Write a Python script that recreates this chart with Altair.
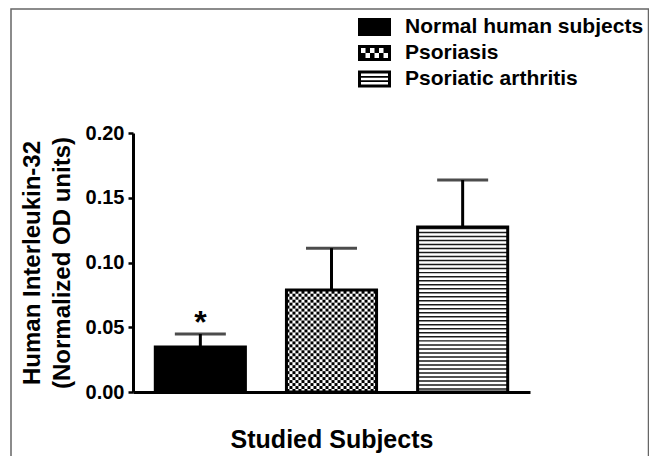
import math
import altair as alt
import pandas as pd

# ---- data ----
categories = ["Normal human subjects", "Psoriasis", "Psoriatic arthritis"]
means = [0.0347, 0.0788, 0.1274]
sems = [0.0101, 0.0323, 0.0363]
marks_sig = ["*", "", ""]
y_ticks = [0.0, 0.05, 0.10, 0.15, 0.20]

df = pd.DataFrame({"cat": categories, "mean": means, "sem": sems, "sig": marks_sig})
legend_df = pd.DataFrame({"cat": categories})

# ---- pattern decoration built from the values ----
cell_h = 0.0023
n_cols = 30
checker_rows = []
m2 = means[1]
for r in range(math.ceil(m2 / cell_h)):
    for c in range(n_cols):
        if (r + c) % 2 == 0:
            checker_rows.append({"cat": categories[1], "col": c,
                                 "lo": r * cell_h, "hi": min((r + 1) * cell_h, m2)})
checker_df = pd.DataFrame(checker_rows)

period = 0.0031
thick = 0.00115
stripe_rows = []
m3 = means[2]
k = 0
while k * period + period * 0.55 + thick <= m3:
    lo = k * period + period * 0.55
    stripe_rows.append({"cat": categories[2], "lo": lo, "hi": lo + thick})
    k += 1
stripe_df = pd.DataFrame(stripe_rows)


def rect(x0, y0, x1, y1):
    return f"M{x0:.3f},{y0:.3f}L{x1:.3f},{y0:.3f}L{x1:.3f},{y1:.3f}L{x0:.3f},{y1:.3f}Z"


W, T = 1.65, 0.3
p_black = rect(-W, -0.9, W, 0.9)
p_check = (rect(-W, -0.8, W, -0.5) + rect(-W, 0.5, W, 0.8)
           + rect(-W, -0.5, -W + T, 0.5) + rect(W - T, -0.5, W, 0.5))
cw = (2 * (W - T)) / 6
for rr in range(2):
    for cc in range(6):
        if (rr + cc) % 2 == 1:
            x0 = -W + T + cc * cw
            y0 = -0.5 + rr * 0.5
            p_check += rect(x0, y0, x0 + cw, y0 + 0.5)
p_stripe = (rect(-W, -0.85, W, -0.55) + rect(-W, 0.55, W, 0.85)
            + rect(-W, -0.55, -W + T, 0.55) + rect(W - T, -0.55, W, 0.55)
            + rect(-W + T, -0.3, W - T, -0.125) + rect(-W + T, 0.125, W - T, 0.3))

FONT = "Liberation Sans"

x_axis = alt.Axis(labels=False, ticks=False, title="Studied Subjects",
                  titleFont=FONT, titleFontSize=25, titleFontWeight="bold",
                  titleColor="black", titlePadding=35, domainColor="black",
                  domainWidth=3, grid=False)
y_axis = alt.Axis(values=y_ticks, format=".2f",
                  title=["Human Interleukin-32", "(Normalized OD units)"],
                  titleFont=FONT, titleFontSize=24, titleFontWeight="bold",
                  titleColor="black", titleLineHeight=30, titlePadding=11,
                  labelFont=FONT, labelFontSize=20, labelFontWeight="bold",
                  labelColor="black", labelPadding=4, tickColor="black",
                  tickWidth=2.5, tickSize=5, domainColor="black", domainWidth=3,
                  grid=False)

xs = alt.Scale(domain=categories, paddingInner=0.313, paddingOuter=0.17)
ys = alt.Scale(domain=[0, 0.2], nice=False)


def X():
    return alt.X("cat:N", sort=categories, scale=xs, axis=x_axis)


def Y(field):
    return alt.Y(f"{field}:Q", scale=ys, axis=y_axis)


base = alt.Chart(df).transform_calculate(top="datum.mean + datum.sem")

frame = alt.Chart(alt.Data(values=[{"a": 1}])).mark_rect(
    fill=None, stroke="#666666", strokeWidth=1.5
).encode(x=alt.value(-122), x2=alt.value(515.5), y=alt.value(-124), y2=alt.value(400))

bars_fill = base.transform_calculate(grp="datum.cat").mark_bar(strokeWidth=0).encode(
    x=X(), y=Y("mean"),
    color=alt.Color("grp:N", scale=alt.Scale(domain=categories, range=["black", "white", "white"]),
                    legend=None),
)

checker = alt.Chart(checker_df).mark_rect(color="black").encode(
    x=X(), xOffset=alt.XOffset("col:O", scale=alt.Scale(paddingInner=0, paddingOuter=0)),
    y=Y("lo"), y2="hi",
)

stripes = alt.Chart(stripe_df).mark_rect(color="#1a1a1a").encode(
    x=X(), y=Y("lo"), y2="hi",
)

outline = base.mark_bar(fill=None, stroke="black", strokeWidth=3).encode(
    x=X(), y=Y("mean"),
)

stem = base.mark_rule(color="black", strokeWidth=3).encode(
    x=X(), y=Y("mean"), y2="top:Q",
)

cap = base.mark_tick(orient="horizontal", color="black", size=51, thickness=3).encode(
    x=X(), y=Y("top"),
)

star = base.mark_text(font=FONT, fontSize=32, fontWeight="bold", color="black",
                      baseline="alphabetic", dy=-1).encode(
    x=X(), y=Y("top"), text="sig:N",
)

main = alt.layer(frame, bars_fill, checker, stripes, outline, stem, cap, star)

# ---- legend drawn as marks (rows on their own point scale) ----
leg_y = alt.Y("cat:N", sort=categories,
              scale=alt.Scale(type="point", domain=categories, range=[-106, -54], padding=0),
              axis=None)
leg_sym = alt.Chart(legend_df).mark_point(filled=True, color="black", opacity=1, size=400,
                                          strokeWidth=0).encode(
    x=alt.value(241.5), y=leg_y,
    shape=alt.Shape("cat:N", scale=alt.Scale(domain=categories, range=[p_black, p_check, p_stripe]),
                    legend=None),
)
leg_txt = alt.Chart(legend_df).mark_text(align="left", baseline="middle", font=FONT, fontSize=21,
                                         fontWeight="bold", color="black").encode(
    x=alt.value(272), y=leg_y, text="cat:N",
)
legend = alt.layer(leg_sym, leg_txt)

chart = alt.layer(main, legend).resolve_scale(y="independent").properties(
    width=397, height=259,
    background="white",
    autosize=alt.AutoSizeParams(type="none"),
    padding={"left": 125, "top": 125, "right": 119, "bottom": 64},
).configure_view(stroke=None)

chart.save("out.html", embed_options={"renderer": "svg", "actions": False})
